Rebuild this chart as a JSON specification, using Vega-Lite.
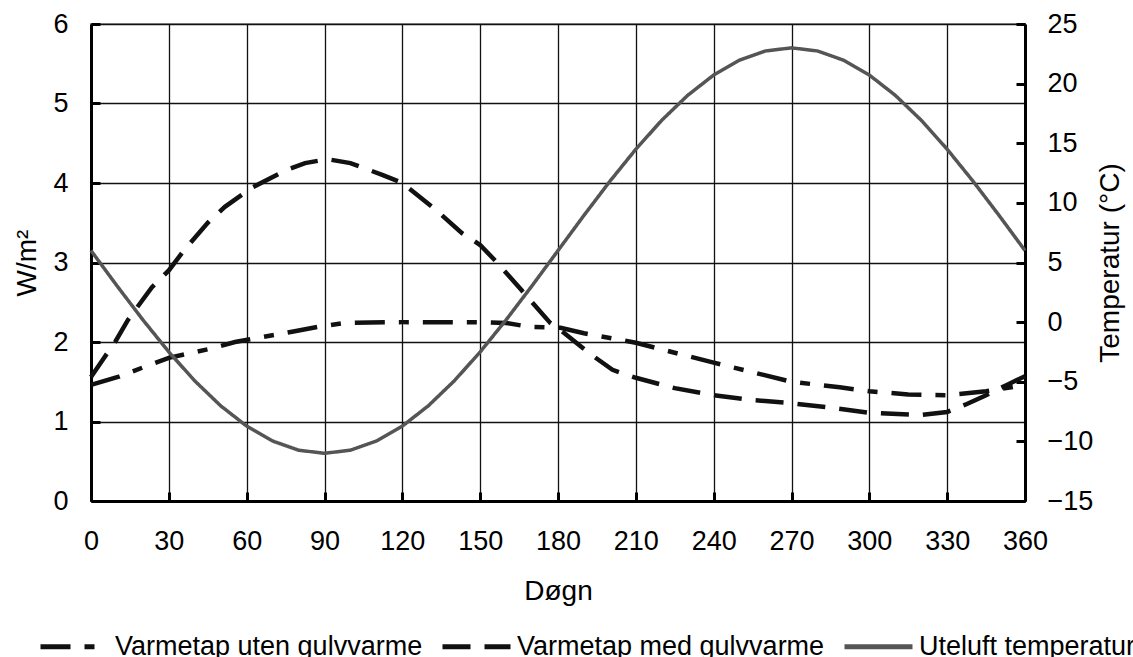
{
  "$schema": "https://vega.github.io/schema/vega-lite/v6.json",
  "width": 934,
  "height": 477,
  "autosize": {"type": "none"},
  "padding": {"left": 91, "top": 24, "right": 108, "bottom": 156},
  "background": "white",
  "config": {
    "font": "Liberation Sans",
    "view": {"stroke": "#999999", "strokeWidth": 2},
    "axis": {
      "labelFont": "Liberation Sans",
      "labelFontSize": 27,
      "labelColor": "black",
      "titleFont": "Liberation Sans",
      "titleFontSize": 28,
      "titleFontWeight": "normal",
      "titleColor": "black",
      "domainColor": "black",
      "domainWidth": 3,
      "tickColor": "black",
      "tickWidth": 3,
      "tickSize": -9,
      "gridColor": "#111111",
      "gridWidth": 1.3,
      "gridOpacity": 1
    },
    "legend": {
      "orient": "none",
      "legendX": -53,
      "legendY": 586,
      "direction": "horizontal",
      "padding": 0,
      "symbolType": "stroke",
      "symbolSize": 4624,
      "symbolStrokeWidth": 5,
      "labelFont": "Liberation Sans",
      "labelFontSize": 27,
      "labelColor": "black",
      "labelLimit": 600,
      "labelOffset": 4,
      "columnPadding": 9
    }
  },
  "data": {
    "values": [
      {"d": 0, "s": "Varmetap med gulvvarme", "v": 1.56},
      {"d": 5, "s": "Varmetap med gulvvarme", "v": 1.8},
      {"d": 9.3, "s": "Varmetap med gulvvarme", "v": 2.0},
      {"d": 14.3, "s": "Varmetap med gulvvarme", "v": 2.28},
      {"d": 23.5, "s": "Varmetap med gulvvarme", "v": 2.69},
      {"d": 30, "s": "Varmetap med gulvvarme", "v": 2.9},
      {"d": 36, "s": "Varmetap med gulvvarme", "v": 3.16},
      {"d": 45, "s": "Varmetap med gulvvarme", "v": 3.5},
      {"d": 51.6, "s": "Varmetap med gulvvarme", "v": 3.7},
      {"d": 62, "s": "Varmetap med gulvvarme", "v": 3.94},
      {"d": 75, "s": "Varmetap med gulvvarme", "v": 4.16},
      {"d": 82.5, "s": "Varmetap med gulvvarme", "v": 4.25},
      {"d": 91, "s": "Varmetap med gulvvarme", "v": 4.3},
      {"d": 100, "s": "Varmetap med gulvvarme", "v": 4.25},
      {"d": 112.5, "s": "Varmetap med gulvvarme", "v": 4.1},
      {"d": 120, "s": "Varmetap med gulvvarme", "v": 4.0},
      {"d": 133, "s": "Varmetap med gulvvarme", "v": 3.66},
      {"d": 143, "s": "Varmetap med gulvvarme", "v": 3.37},
      {"d": 150, "s": "Varmetap med gulvvarme", "v": 3.22},
      {"d": 156.5, "s": "Varmetap med gulvvarme", "v": 3.0},
      {"d": 166, "s": "Varmetap med gulvvarme", "v": 2.65},
      {"d": 177, "s": "Varmetap med gulvvarme", "v": 2.24},
      {"d": 181, "s": "Varmetap med gulvvarme", "v": 2.15},
      {"d": 192, "s": "Varmetap med gulvvarme", "v": 1.86},
      {"d": 201, "s": "Varmetap med gulvvarme", "v": 1.65},
      {"d": 210, "s": "Varmetap med gulvvarme", "v": 1.55},
      {"d": 225, "s": "Varmetap med gulvvarme", "v": 1.42},
      {"d": 240, "s": "Varmetap med gulvvarme", "v": 1.33},
      {"d": 255, "s": "Varmetap med gulvvarme", "v": 1.27},
      {"d": 270, "s": "Varmetap med gulvvarme", "v": 1.23},
      {"d": 286, "s": "Varmetap med gulvvarme", "v": 1.17},
      {"d": 300, "s": "Varmetap med gulvvarme", "v": 1.11},
      {"d": 319.5, "s": "Varmetap med gulvvarme", "v": 1.08},
      {"d": 330, "s": "Varmetap med gulvvarme", "v": 1.12},
      {"d": 337.6, "s": "Varmetap med gulvvarme", "v": 1.22},
      {"d": 345, "s": "Varmetap med gulvvarme", "v": 1.33},
      {"d": 353, "s": "Varmetap med gulvvarme", "v": 1.46},
      {"d": 360, "s": "Varmetap med gulvvarme", "v": 1.57},
      {"d": 0, "s": "Varmetap uten gulvvarme", "v": 1.46},
      {"d": 10.4, "s": "Varmetap uten gulvvarme", "v": 1.56},
      {"d": 20, "s": "Varmetap uten gulvvarme", "v": 1.68},
      {"d": 30, "s": "Varmetap uten gulvvarme", "v": 1.8},
      {"d": 46.6, "s": "Varmetap uten gulvvarme", "v": 1.92},
      {"d": 55.5, "s": "Varmetap uten gulvvarme", "v": 2.0},
      {"d": 77.5, "s": "Varmetap uten gulvvarme", "v": 2.13},
      {"d": 87.5, "s": "Varmetap uten gulvvarme", "v": 2.19},
      {"d": 98, "s": "Varmetap uten gulvvarme", "v": 2.24},
      {"d": 120, "s": "Varmetap uten gulvvarme", "v": 2.25},
      {"d": 150, "s": "Varmetap uten gulvvarme", "v": 2.25},
      {"d": 160, "s": "Varmetap uten gulvvarme", "v": 2.24},
      {"d": 169, "s": "Varmetap uten gulvvarme", "v": 2.19},
      {"d": 181, "s": "Varmetap uten gulvvarme", "v": 2.18},
      {"d": 190, "s": "Varmetap uten gulvvarme", "v": 2.11},
      {"d": 210, "s": "Varmetap uten gulvvarme", "v": 1.99},
      {"d": 240, "s": "Varmetap uten gulvvarme", "v": 1.74},
      {"d": 270, "s": "Varmetap uten gulvvarme", "v": 1.5},
      {"d": 288.6, "s": "Varmetap uten gulvvarme", "v": 1.43},
      {"d": 300, "s": "Varmetap uten gulvvarme", "v": 1.38},
      {"d": 315, "s": "Varmetap uten gulvvarme", "v": 1.34},
      {"d": 330, "s": "Varmetap uten gulvvarme", "v": 1.33},
      {"d": 345, "s": "Varmetap uten gulvvarme", "v": 1.38},
      {"d": 360, "s": "Varmetap uten gulvvarme", "v": 1.46},
      {"d": 0, "s": "Uteluft temperatur", "v": 6},
      {"d": 10, "s": "Uteluft temperatur", "v": 3.05},
      {"d": 20, "s": "Uteluft temperatur", "v": 0.19},
      {"d": 30, "s": "Uteluft temperatur", "v": -2.5},
      {"d": 40, "s": "Uteluft temperatur", "v": -4.93},
      {"d": 50, "s": "Uteluft temperatur", "v": -7.02},
      {"d": 60, "s": "Uteluft temperatur", "v": -8.72},
      {"d": 70, "s": "Uteluft temperatur", "v": -9.97},
      {"d": 80, "s": "Uteluft temperatur", "v": -10.74},
      {"d": 90, "s": "Uteluft temperatur", "v": -11},
      {"d": 100, "s": "Uteluft temperatur", "v": -10.74},
      {"d": 110, "s": "Uteluft temperatur", "v": -9.97},
      {"d": 120, "s": "Uteluft temperatur", "v": -8.72},
      {"d": 130, "s": "Uteluft temperatur", "v": -7.02},
      {"d": 140, "s": "Uteluft temperatur", "v": -4.93},
      {"d": 150, "s": "Uteluft temperatur", "v": -2.5},
      {"d": 160, "s": "Uteluft temperatur", "v": 0.19},
      {"d": 170, "s": "Uteluft temperatur", "v": 3.05},
      {"d": 180, "s": "Uteluft temperatur", "v": 6},
      {"d": 190, "s": "Uteluft temperatur", "v": 8.95},
      {"d": 200, "s": "Uteluft temperatur", "v": 11.81},
      {"d": 210, "s": "Uteluft temperatur", "v": 14.5},
      {"d": 220, "s": "Uteluft temperatur", "v": 16.93},
      {"d": 230, "s": "Uteluft temperatur", "v": 19.02},
      {"d": 240, "s": "Uteluft temperatur", "v": 20.72},
      {"d": 250, "s": "Uteluft temperatur", "v": 21.97},
      {"d": 260, "s": "Uteluft temperatur", "v": 22.74},
      {"d": 270, "s": "Uteluft temperatur", "v": 23},
      {"d": 280, "s": "Uteluft temperatur", "v": 22.74},
      {"d": 290, "s": "Uteluft temperatur", "v": 21.97},
      {"d": 300, "s": "Uteluft temperatur", "v": 20.72},
      {"d": 310, "s": "Uteluft temperatur", "v": 19.02},
      {"d": 320, "s": "Uteluft temperatur", "v": 16.93},
      {"d": 330, "s": "Uteluft temperatur", "v": 14.5},
      {"d": 340, "s": "Uteluft temperatur", "v": 11.81},
      {"d": 350, "s": "Uteluft temperatur", "v": 8.95},
      {"d": 360, "s": "Uteluft temperatur", "v": 6}
    ]
  },
  "encoding": {
    "x": {
      "field": "d",
      "type": "quantitative",
      "scale": {"domain": [0, 360], "nice": false, "zero": false},
      "axis": {
        "values": [0, 30, 60, 90, 120, 150, 180, 210, 240, 270, 300, 330, 360],
        "title": "Døgn",
        "labelPadding": 36,
        "titlePadding": 23,
        "labelFlush": false,
        "labelOverlap": false
      }
    },
    "color": {
      "field": "s",
      "type": "nominal",
      "scale": {
        "domain": ["Varmetap uten gulvvarme", "Varmetap med gulvvarme", "Uteluft temperatur"],
        "range": ["#111111", "#111111", "#555555"]
      },
      "legend": {"title": null}
    },
    "strokeDash": {
      "field": "s",
      "type": "nominal",
      "scale": {
        "domain": ["Varmetap uten gulvvarme", "Varmetap med gulvvarme", "Uteluft temperatur"],
        "range": [[30, 14, 10, 14], [28, 14], [1, 0]]
      },
      "legend": {"title": null}
    }
  },
  "layer": [
    {
      "transform": [{"filter": "datum.s !== 'Uteluft temperatur'"}],
      "mark": {"type": "line", "strokeWidth": 4.5},
      "encoding": {
        "y": {
          "field": "v",
          "type": "quantitative",
          "scale": {"domain": [0, 6], "nice": false},
          "axis": {
            "values": [0, 1, 2, 3, 4, 5, 6],
            "title": "W/m²",
            "orient": "left",
            "labelPadding": 32,
            "titlePadding": 11,
            "grid": true
          }
        }
      }
    },
    {
      "transform": [{"filter": "datum.s === 'Uteluft temperatur'"}],
      "mark": {"type": "line", "strokeWidth": 3.5},
      "encoding": {
        "y": {
          "field": "v",
          "type": "quantitative",
          "scale": {"domain": [-15, 25], "nice": false, "zero": false},
          "axis": {
            "values": [-15, -10, -5, 0, 5, 10, 15, 20, 25],
            "title": "Temperatur (°C)",
            "titleAngle": 270,
            "orient": "right",
            "labelPadding": 31,
            "titlePadding": 32,
            "grid": false
          }
        }
      }
    }
  ],
  "resolve": {"scale": {"y": "independent"}}
}
